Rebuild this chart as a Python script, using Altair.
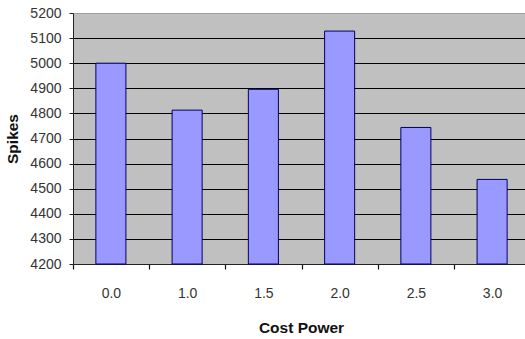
import altair as alt
import pandas as pd

# Spikes recorded for each cost power setting
cost_power = ["0.0", "1.0", "1.5", "2.0", "2.5", "3.0"]
spikes = [5000, 4813, 4896, 5128, 4744, 4537]
y_ticks = [4200, 4300, 4400, 4500, 4600, 4700, 4800, 4900, 5000, 5100, 5200]

df = pd.DataFrame({"power": cost_power, "spikes": spikes})

FONT = "Liberation Sans"
X_RANGE = 457
STEP = X_RANGE / len(cost_power)

bars = alt.Chart(df).mark_bar(
    fill="#9999FF", stroke="#000066", strokeWidth=1
).encode(
    x=alt.X(
        "power:N",
        sort=cost_power,
        title="Cost Power",
        scale=alt.Scale(range=[0, X_RANGE], paddingInner=0.606, paddingOuter=0.3),
        axis=alt.Axis(
            labelAngle=0,
            labelFont=FONT,
            labelFontSize=14,
            labelColor="#333333",
            labelBaseline="middle",
            labelPadding=24,
            # ticks sit on the category boundaries, labels stay centred
            tickOffset=-STEP / 2,
            labelOffset=STEP / 2,
            tickSize=5,
            tickWidth=1.2,
            tickColor="#111111",
            domainColor="#222222",
            titleFont=FONT,
            titleFontSize=15.5,
            titleFontWeight="bold",
            titleColor="#111111",
            titleX=228,
            titleY=63,
            titleBaseline="middle",
        ),
    ),
    y=alt.Y(
        "spikes:Q",
        title="Spikes",
        scale=alt.Scale(domain=[4200, 5200], zero=False, nice=False),
        axis=alt.Axis(
            values=y_ticks,
            format="d",
            labelFont=FONT,
            labelFontSize=14,
            labelColor="#333333",
            labelPadding=8,
            tickSize=4,
            tickColor="#222222",
            domainColor="#222222",
            grid=True,
            gridColor={"condition": {"test": "datum.value == 5200", "value": "#a0a0a0"}, "value": "#000000"},
            gridOpacity=1,
            gridWidth=1,
            titleFont=FONT,
            titleFontSize=15.5,
            titleFontWeight="bold",
            titleColor="#111111",
            titleAngle=270,
            titleX=-61,
            titleY=125.5,
            titleAlign="center",
            titleBaseline="middle",
        ),
    ),
    y2=alt.datum(4200),
)

chart = bars.properties(
    width=452,
    height=251,
    autosize=alt.AutoSizeParams(type="none"),
    padding={"left": 73, "top": 13, "right": 0, "bottom": 75},
    background="white",
).configure_view(
    fill="#C0C0C0",
    stroke=None,
)

chart.save("out.html", embed_options={"renderer": "svg", "actions": False})
